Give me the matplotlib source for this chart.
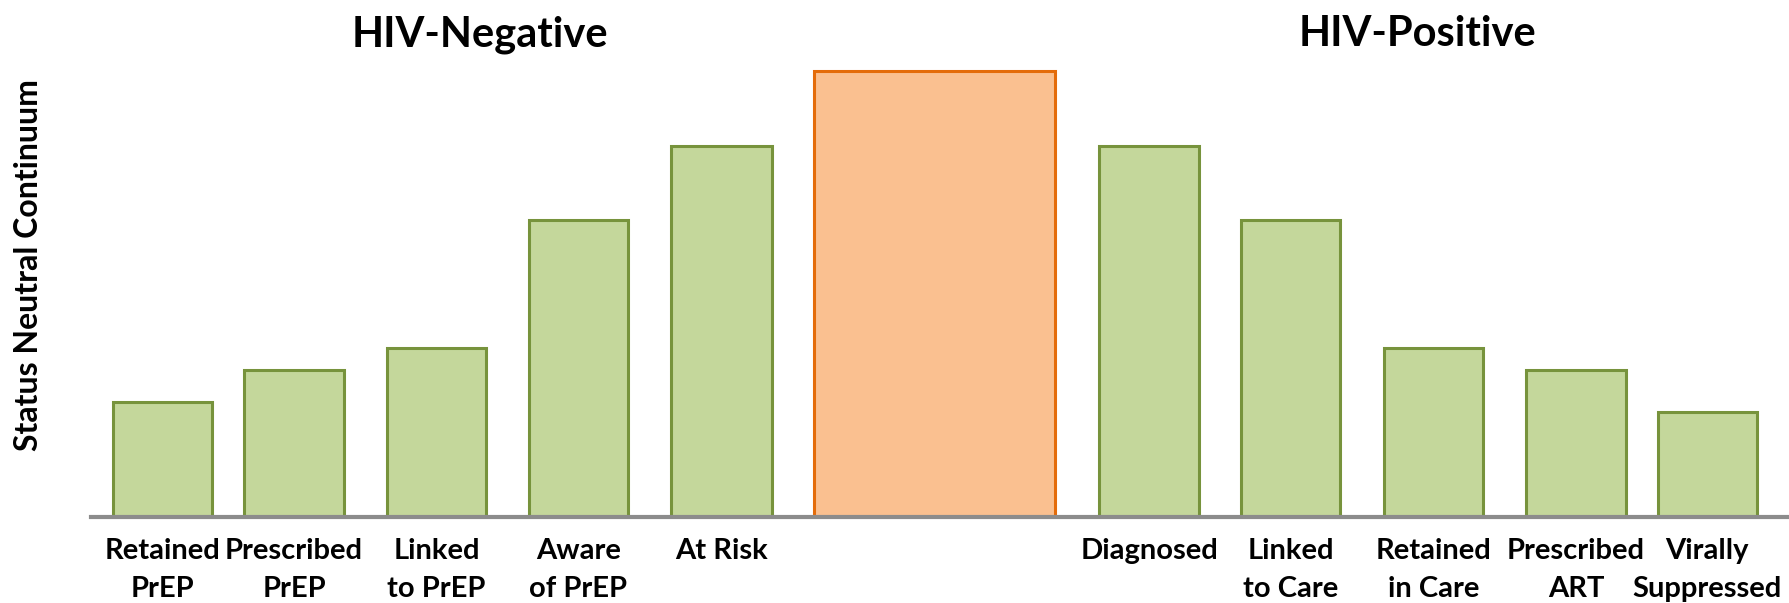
import matplotlib.pyplot as plt

# bar heights (arbitrary units)
labels = ["Retained\nPrEP", "Prescribed\nPrEP", "Linked\nto PrEP", "Aware\nof PrEP", "At Risk",
          "",
          "Diagnosed", "Linked\nto Care", "Retained\nin Care", "Prescribed\nART", "Virally\nSuppressed"]
values = [101, 129, 148, 260, 325, 391, 325, 260, 148, 129, 92]

# layout (reference pixels at 1568 wide)
xpos = [142.5, 257.5, 382.5, 506.5, 632, 818.5, 1006.5, 1130.5, 1255.5, 1380.5, 1495.5]
widths = [87, 87, 87, 87, 88, 211, 87, 87, 87, 87, 87]

green, green_edge = "#C4D79B", "#77933C"
orange, orange_edge = "#FAC090", "#E46C0A"

plt.rcParams['font.family'] = ['Lato', 'DejaVu Sans']

W, H = 1568, 528
fig = plt.figure(figsize=(17.9, 6.03), dpi=100)
ax = fig.add_axes([80 / W, (H - 453) / H, 1 - 80 / W, 453 / H])

colors = [orange if i == 5 else green for i in range(len(values))]
edges = [orange_edge if i == 5 else green_edge for i in range(len(values))]
ax.bar(xpos, values, width=widths, color=colors, edgecolor=edges, linewidth=2.2, zorder=2)

ax.set_xlim(80, W)
ax.set_ylim(0, 453)
for s in ["top", "right", "left"]:
    ax.spines[s].set_visible(False)
ax.spines["bottom"].set_color("#8C8C8C")
ax.spines["bottom"].set_linewidth(3)
ax.spines["bottom"].set_zorder(3)
ax.set_yticks([])
ax.set_xticks(xpos)
ax.set_xticklabels(labels, fontsize=21, fontweight="bold", linespacing=1.55, va="top")
ax.tick_params(axis="x", length=0, pad=15)

fig.text(420 / W, 1 - 30 / H, "HIV-Negative", fontsize=30, fontweight="bold", ha="center", va="center")
fig.text(1242 / W, 1 - 30 / H, "HIV-Positive", fontsize=30, fontweight="bold", ha="center", va="center")
fig.text(25 / W, 1 - 232 / H, "Status Neutral Continuum", fontsize=23, fontweight="bold",
         rotation=90, ha="center", va="center")

fig.savefig("out.png", dpi=100)
plt.close(fig)
